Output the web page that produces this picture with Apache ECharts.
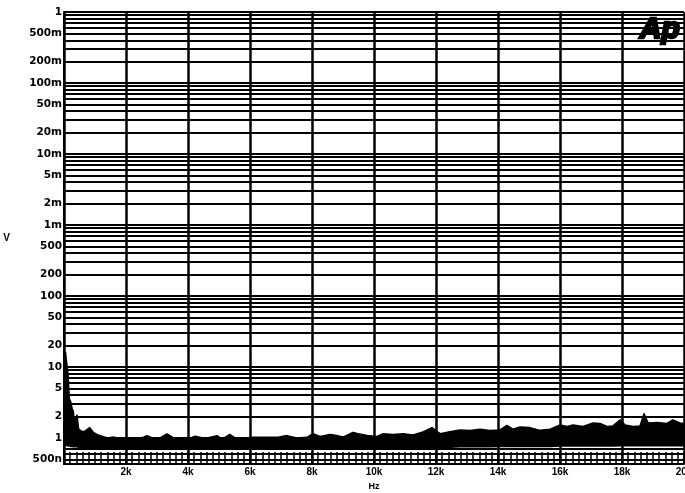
<!DOCTYPE html>
<html>
<head>
<meta charset="utf-8">
<script src="https://cdn.jsdelivr.net/npm/echarts@6/dist/echarts.min.js"></script>
<style>
html,body{margin:0;padding:0;background:#fff;}
#chart{width:685px;height:493px;}
</style>
</head>
<body>
<div id="chart"></div>
<script>
// Frequency (Hz) of each trace point
var freqHz = [0,50,90,130,170,220,260,300,340,380,420,470,550,650,750,830,950,1100,1250,1400,1600,1800,
  2000,2250,2450,2680,2930,3100,3320,3580,3800,4000,4230,4550,4940,5100,5350,5550,5770,6100,6420,6870,
  7190,7510,7840,8030,8260,8580,8810,9000,9320,9490,9780,10100,10290,10610,10940,11260,11580,11870,
  12130,12450,12770,13100,13420,13740,14060,14290,14480,14710,15030,15360,15680,16000,16230,16420,
  16740,17070,17290,17520,17710,17940,18100,18360,18580,18710,18840,19130,19450,19640,19870,20000];
// Upper edge of the noise trace (µV)
var upperUV = [17,16,11,8,3.6,3.2,2.6,2.4,1.6,1.9,2.1,1.35,1.25,1.22,1.32,1.4,1.2,1.1,1.05,1.0,1.03,0.97,
  1.0,0.96,0.98,1.08,0.97,1.0,1.14,0.98,1.0,0.97,1.06,0.98,1.08,0.96,1.12,0.98,0.98,1.02,1.02,1.02,
  1.08,1.0,1.02,1.15,1.05,1.12,1.08,1.03,1.2,1.15,1.08,1.05,1.15,1.12,1.15,1.1,1.22,1.4,
  1.15,1.22,1.3,1.27,1.33,1.27,1.3,1.5,1.33,1.43,1.4,1.28,1.33,1.52,1.45,1.52,
  1.45,1.63,1.6,1.45,1.48,1.8,1.52,1.45,1.48,2.2,1.63,1.65,1.6,1.8,1.63,1.6];
// Lower edge of the noise trace (µV)
var lowerUV = [0.8,0.8,0.78,0.78,0.77,0.76,0.76,0.75,0.75,0.75,0.75,0.74,0.74,0.74,0.74,0.74,0.74,0.73,0.73,0.73,0.73,0.73,
  0.73,0.73,0.73,0.73,0.73,0.73,0.73,0.73,0.73,0.73,0.73,0.73,0.73,0.73,0.73,0.73,0.73,0.73,0.73,0.73,
  0.73,0.73,0.73,0.73,0.73,0.73,0.73,0.73,0.73,0.73,0.73,0.73,0.73,0.73,0.74,0.74,0.74,0.74,
  0.74,0.74,0.75,0.75,0.75,0.75,0.76,0.76,0.76,0.76,0.76,0.76,0.76,0.77,0.77,0.77,
  0.77,0.77,0.77,0.77,0.77,0.78,0.78,0.78,0.78,0.78,0.78,0.78,0.78,0.78,0.78,0.78];
// Y tick labels (volts)
var yLabelValues = [1,0.5,0.2,0.1,0.05,0.02,0.01,0.005,0.002,0.001,5e-4,2e-4,1e-4,5e-5,2e-5,1e-5,5e-6,2e-6,1e-6,5e-7];
var yLabelTexts = ['1','500m','200m','100m','50m','20m','10m','5m','2m','1m','500','200','100','50','20','10','5','2','1','500n'];
// X tick labels
var xTickValues = [0,2000,4000,6000,8000,10000,12000,14000,16000,18000,20000];
var xTickLabels = ['','2k','4k','6k','8k','10k','12k','14k','16k','18k','20k'];

var yMin = 4.3e-7, yMax = 1;
// gridline values: 1..9 x each decade
var yGrid = [];
for (var e = -7; e <= 0; e++) {
  for (var m = 1; m <= 9; m++) {
    var v = m * Math.pow(10, e);
    if (v >= yMin * 0.999 && v <= yMax * 1.001) yGrid.push(v);
  }
}

var traceData = freqHz.map(function (f, i) { return [f, upperUV[i] * 1e-6, lowerUV[i] * 1e-6]; });

function renderBand(params, api) {
  if (params.dataIndex !== 0) return null;
  var pts = [];
  var n = traceData.length, i;
  for (i = 0; i < n; i++) pts.push(api.coord([traceData[i][0], traceData[i][1]]));
  for (i = n - 1; i >= 0; i--) pts.push(api.coord([traceData[i][0], traceData[i][2]]));
  return {
    type: 'polygon',
    shape: {points: pts},
    style: {fill: '#000', stroke: '#000', lineWidth: 1.5, lineJoin: 'round'}
  };
}

var font = '"Liberation Sans", Arial, sans-serif';
var yFont = '"DejaVu Sans", sans-serif';
var chart = echarts.init(document.getElementById('chart'), null, {renderer: 'canvas'});
chart.setOption({
  animation: false,
  backgroundColor: '#fff',
  grid: {left: 64, right: 1, top: 12, bottom: 29, containLabel: false, outerBoundsMode: 'none'},
  xAxis: {
    type: 'value', min: 0, max: 20000, interval: 2000,
    name: 'Hz', nameLocation: 'middle', nameGap: 15,
    nameTextStyle: {color: '#000', fontSize: 9, fontWeight: 'bold', fontFamily: font},
    axisLine: {show: true, lineStyle: {color: '#000', width: 2}},
    axisTick: {show: true, inside: true, length: 12, lineStyle: {color: '#000', width: 2}},
    minorTick: {show: true, splitNumber: 10, length: 12, lineStyle: {color: '#000', width: 1.5}},
    axisLabel: {
      color: '#000', fontSize: 10, fontWeight: 'bold', fontFamily: font, margin: 3, hideOverlap: false,
      formatter: function (v) { var i = xTickValues.indexOf(v); return i >= 0 ? xTickLabels[i] : ''; }
    },
    splitLine: {show: true, lineStyle: {color: '#000', width: 2.5}}
  },
  yAxis: {
    type: 'log', logBase: 10, min: yMin, max: yMax,
    name: 'V', nameLocation: 'middle', nameRotate: 0, nameGap: 54,
    nameTextStyle: {color: '#000', fontSize: 10, fontWeight: 'bold', fontFamily: font},
    axisLine: {show: true, lineStyle: {color: '#000', width: 2}},
    axisTick: {show: true, length: 0, customValues: yGrid},
    axisLabel: {
      color: '#000', fontSize: 10.5, fontWeight: 'bold', fontFamily: yFont, margin: 2, hideOverlap: false,
      verticalAlign: 'middle', lineHeight: 12, padding: [0, 0, 6, 0],
      customValues: yLabelValues,
      formatter: function (v) {
        for (var i = 0; i < yLabelValues.length; i++) {
          if (Math.abs(Math.log10(v) - Math.log10(yLabelValues[i])) < 1e-6) return yLabelTexts[i];
        }
        return '';
      }
    },
    splitLine: {show: true, lineStyle: {color: '#000', width: 2}}
  },
  graphic: [{
    type: 'text', right: 4, top: 13, z: 100,
    style: {text: 'Ap', fill: '#000', stroke: '#000', lineWidth: 2.5,
      font: 'italic bold 30px ' + font}
  }],
  series: [
    {
      type: 'custom', data: traceData, renderItem: renderBand,
      encode: {x: 0, y: [1, 2]}, clip: true, z: 3
    }
  ]
});
</script>
</body>
</html>
